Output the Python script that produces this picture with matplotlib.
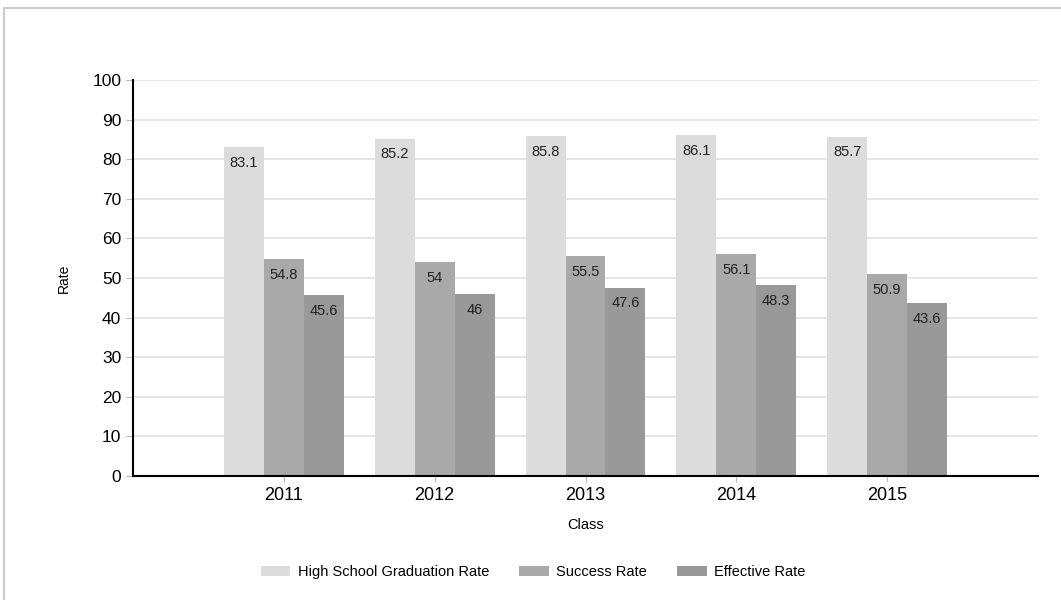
import numpy as np
import matplotlib.pyplot as plt
from matplotlib.patches import Rectangle

plt.rcParams['font.family'] = ['Liberation Sans', 'DejaVu Sans']

# Data
classes = ['2011', '2012', '2013', '2014', '2015']
grad_rate = [83.1, 85.2, 85.8, 86.1, 85.7]
success_rate = [54.8, 54, 55.5, 56.1, 50.9]
effective_rate = [45.6, 46, 47.6, 48.3, 43.6]
series_names = ['High School Graduation Rate', 'Success Rate', 'Effective Rate']
colors = ['#dcdcdc', '#a9a9a9', '#999999']

fig = plt.figure(figsize=(10.61, 6), dpi=100)
fig.patches.append(Rectangle((4 / 1061, -0.1), 1.2, 1 - 8 / 600 + 0.1,
                             transform=fig.transFigure, fill=False,
                             edgecolor='#cccccc', linewidth=1.5))

ax = fig.add_axes([133 / 1061, 1 - 476 / 600, (1038 - 133) / 1061, (476 - 80) / 600])

x = np.arange(1, len(classes) + 1)
w = 0.265
for i, (vals, name, c) in enumerate(zip([grad_rate, success_rate, effective_rate],
                                         series_names, colors)):
    bars = ax.bar(x + (i - 1) * w, vals, width=w, color=c, label=name, zorder=2)
    for b, v in zip(bars, vals):
        ax.text(b.get_x() + b.get_width() / 2, v - 4, f'{v:g}',
                ha='center', va='center', fontsize=10.5, color='#222222', zorder=3)

ax.set_xlim(0, 6)
ax.set_ylim(0, 100)
ax.set_yticks(range(0, 101, 10))
ax.set_xticks(x)
ax.set_xticklabels(classes)
ax.grid(axis='y', color='#e2e2e2', linewidth=1.2, zorder=0)
ax.set_axisbelow(True)

for s in ['top', 'right']:
    ax.spines[s].set_visible(False)
ax.spines['left'].set_linewidth(1.5)
ax.spines['bottom'].set_linewidth(1.5)
ax.tick_params(axis='y', length=5, color='#bbbbbb', labelsize=12.5, pad=3.5)
ax.tick_params(axis='x', length=4, color='#bbbbbb', labelsize=13, pad=4)

ax.set_ylabel('Rate', fontsize=10, labelpad=15)
ax.set_xlabel('Class', fontsize=10.5, labelpad=10)

fig.legend(*ax.get_legend_handles_labels(), loc='center',
           bbox_to_anchor=(533 / 1061, 28 / 600), ncol=3, frameon=False,
           fontsize=10.5, handlelength=2.05, handleheight=0.75,
           handletextpad=0.5, columnspacing=2.05)

fig.savefig('out.png', dpi=100)
